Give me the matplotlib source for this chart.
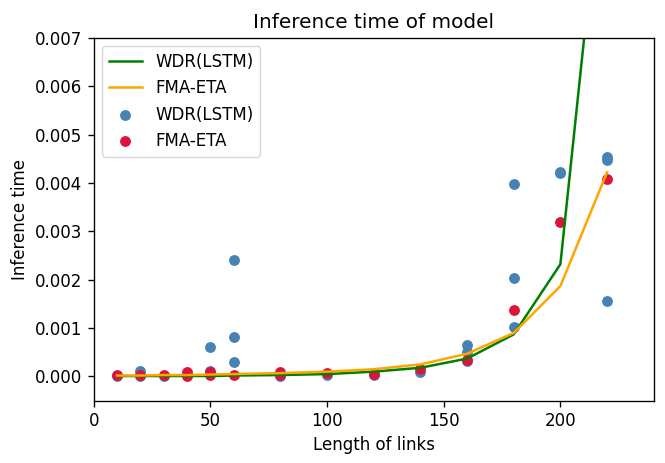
import matplotlib
matplotlib.use("Agg")
import matplotlib.pyplot as plt

# Line data
line_x = [10, 20, 30, 40, 50, 60, 80, 100, 120, 140, 160, 180, 200, 220]
wdr_line = [0.00001, 0.00001, 0.00001, 0.00001, 0.00001, 0.00002, 0.00003,
            0.00005, 0.0001, 0.00018, 0.00037, 0.00087, 0.00232, 0.0115]
fma_line = [0.00002, 0.00002, 0.00003, 0.00003, 0.00004, 0.00005, 0.00007,
            0.0001, 0.00015, 0.00025, 0.00047, 0.00090, 0.00187, 0.00422]

# Scatter data
wdr_pts_x = [10, 20, 20, 30, 40, 50, 50, 60, 60, 60, 80, 100, 120, 140,
             160, 160, 160, 180, 180, 180, 200, 200, 220, 220, 220]
wdr_pts_y = [0.00002, 0.00012, 0.00001, 0.00002, 0.00003, 0.00012, 0.0006,
             0.0024, 0.00082, 0.00029, 0.00002, 0.00003, 0.00003, 0.0001,
             0.00065, 0.00051, 0.00033, 0.00397, 0.00203, 0.00103,
             0.00422, 0.00420, 0.00454, 0.00447, 0.00156]
fma_pts_x = [10, 20, 30, 40, 40, 50, 50, 60, 80, 80, 100, 120, 140, 160,
             180, 200, 220]
fma_pts_y = [0.00003, 0.00003, 0.00004, 0.00009, 0.00002, 0.00009, 0.00003,
             0.00004, 0.0001, 0.00004, 0.00007, 0.00006, 0.00015, 0.00035,
             0.00137, 0.00319, 0.00408]

series_labels = ["WDR(LSTM)", "FMA-ETA"]

k = 1.2
plt.rcParams['xtick.major.size'] = 3.5 * k
plt.rcParams['ytick.major.size'] = 3.5 * k
plt.rcParams['axes.linewidth'] = 0.8 * k
plt.rcParams['xtick.major.width'] = 0.8 * k
plt.rcParams['ytick.major.width'] = 0.8 * k

fig = plt.figure(figsize=(6.65, 4.63), dpi=100)
ax = fig.add_axes([0.141, 0.1346, 0.842, 0.7836])

s1 = ax.scatter(wdr_pts_x, wdr_pts_y, s=46, color="steelblue", label=series_labels[0])
s2 = ax.scatter(fma_pts_x, fma_pts_y, s=46, color="crimson", label=series_labels[1])
l1, = ax.plot(line_x, wdr_line, color="green", lw=1.8, label=series_labels[0])
l2, = ax.plot(line_x, fma_line, color="orange", lw=1.8, label=series_labels[1])

ax.set_xlim(0, 240)
ax.set_ylim(-0.0005, 0.007)
ax.set_title("Inference time of model", fontsize=14.4, pad=7)
ax.set_xlabel("Length of links", fontsize=12, labelpad=4)
ax.set_ylabel("Inference time", fontsize=12, labelpad=4)
ax.tick_params(labelsize=12, pad=4)
ax.legend(handles=[l1, l2, s1, s2], loc="upper left", fontsize=12)

fig.savefig("out.png", dpi=100)
